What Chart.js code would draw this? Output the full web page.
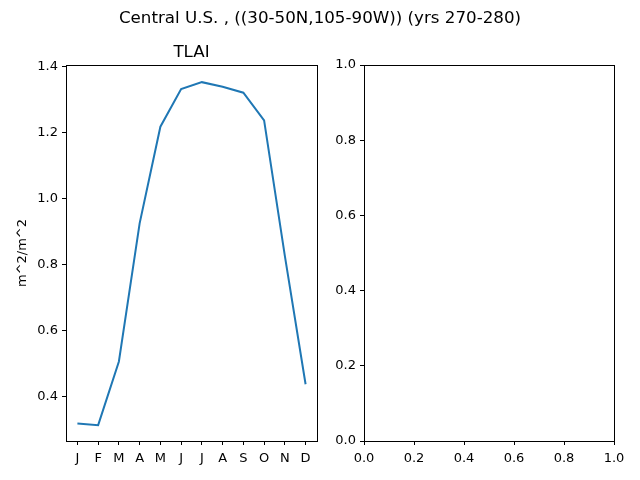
<!DOCTYPE html>
<html>
<head>
<meta charset="utf-8">
<script src="https://cdn.jsdelivr.net/npm/chart.js@4.4.0/dist/chart.umd.min.js"></script>
<style>
  html, body { margin: 0; padding: 0; background: #fff; }
  #wrap { position: relative; width: 640px; height: 480px; }
  canvas { position: absolute; left: 0; top: 0; }
</style>
</head>
<body>
<div id="wrap">
  <canvas id="left" width="640" height="480"></canvas>
  <canvas id="right" width="640" height="480"></canvas>
</div>
<script>
const suptitle = "Central U.S. , ((30-50N,105-90W)) (yrs 270-280)";
const panelTitle = "TLAI";
const yLabel = "m^2/m^2";
const months = ["J", "F", "M", "A", "M", "J", "J", "A", "S", "O", "N", "D"];
const tlai = [0.319, 0.314, 0.507, 0.926, 1.219, 1.333, 1.354, 1.340, 1.322, 1.238, 0.827, 0.438];
const leftYTicks = [0.4, 0.6, 0.8, 1.0, 1.2, 1.4];
const rightTicks = [0.0, 0.2, 0.4, 0.6, 0.8, 1.0];

const FONT = "'DejaVu Sans', sans-serif";
Chart.defaults.font.family = FONT;
Chart.defaults.font.size = 13;
Chart.defaults.color = '#000';
Chart.defaults.animation = false;

// draw the other three spines like matplotlib
const boxPlugin = {
  id: 'box',
  afterDraw(chart) {
    const a = chart.chartArea, ctx = chart.ctx;
    ctx.save();
    ctx.strokeStyle = '#000';
    ctx.lineWidth = 1;
    ctx.strokeRect(Math.round(a.left) + 0.5, Math.round(a.top) + 0.5,
                   Math.round(a.right - a.left), Math.round(a.bottom - a.top));
    ctx.restore();
  }
};

const textPlugin = {
  id: 'texts',
  afterDraw(chart, args, opts) {
    const ctx = chart.ctx, a = chart.chartArea;
    ctx.save();
    ctx.fillStyle = '#000';
    ctx.textAlign = 'center';
    ctx.textBaseline = 'alphabetic';
    if (opts.sup) {
      ctx.font = "16.7px " + FONT;
      ctx.fillText(opts.sup, chart.width / 2, 23);
    }
    if (opts.title) {
      ctx.font = "16.7px " + FONT;
      ctx.fillText(opts.title, (a.left + a.right) / 2, a.top - 8);
    }
    ctx.restore();
  }
};

function axisStyle() {
  return {
    grid: { drawOnChartArea: false, drawTicks: true, tickLength: 4, tickColor: '#000' },
    border: { display: true, color: '#000', width: 1 },
  };
}

new Chart(document.getElementById('left'), {
  type: 'line',
  data: {
    datasets: [{
      data: tlai.map((v, i) => ({ x: i, y: v })),
      borderColor: '#1f77b4',
      borderWidth: 2,
      pointRadius: 0,
      tension: 0,
      fill: false
    }]
  },
  options: {
    responsive: false,
    layout: { padding: { left: 0, right: 323, top: 65, bottom: 0 } },
    plugins: {
      legend: { display: false },
      tooltip: { enabled: false },
      texts: { sup: suptitle, title: panelTitle }
    },
    scales: {
      x: Object.assign(axisStyle(), {
        type: 'linear', min: -0.55, max: 11.55,
        afterBuildTicks: s => { s.ticks = months.map((m, i) => ({ value: i })); },
        ticks: { callback: v => months[v], padding: 6, maxRotation: 0, autoSkip: false },
        afterFit: s => { s.height = 39; }
      }),
      y: Object.assign(axisStyle(), {
        type: 'linear', min: 0.266, max: 1.406,
        afterBuildTicks: s => { s.ticks = leftYTicks.map(v => ({ value: v })); },
        ticks: { callback: v => v.toFixed(1), padding: 4 },
        title: { display: true, text: yLabel, font: { size: 13 }, padding: { top: 15, bottom: 2 } },
        afterFit: s => { s.width = 66; }
      })
    }
  },
  plugins: [boxPlugin, textPlugin]
});

new Chart(document.getElementById('right'), {
  type: 'scatter',
  data: { datasets: [{ data: [] }] },
  options: {
    responsive: false,
    layout: { padding: { left: 0, right: 26, top: 65, bottom: 0 } },
    plugins: { legend: { display: false }, tooltip: { enabled: false } },
    scales: {
      x: Object.assign(axisStyle(), {
        type: 'linear', min: 0, max: 1,
        afterBuildTicks: s => { s.ticks = rightTicks.map(v => ({ value: v })); },
        ticks: { callback: v => v.toFixed(1), padding: 6, maxRotation: 0, autoSkip: false },
        afterFit: s => { s.height = 39; }
      }),
      y: Object.assign(axisStyle(), {
        type: 'linear', min: 0, max: 1,
        afterBuildTicks: s => { s.ticks = rightTicks.map(v => ({ value: v })); },
        ticks: { callback: v => v.toFixed(1), padding: 4 },
        afterFit: s => { s.width = 364; }
      })
    }
  },
  plugins: [boxPlugin]
});
</script>
</body>
</html>
